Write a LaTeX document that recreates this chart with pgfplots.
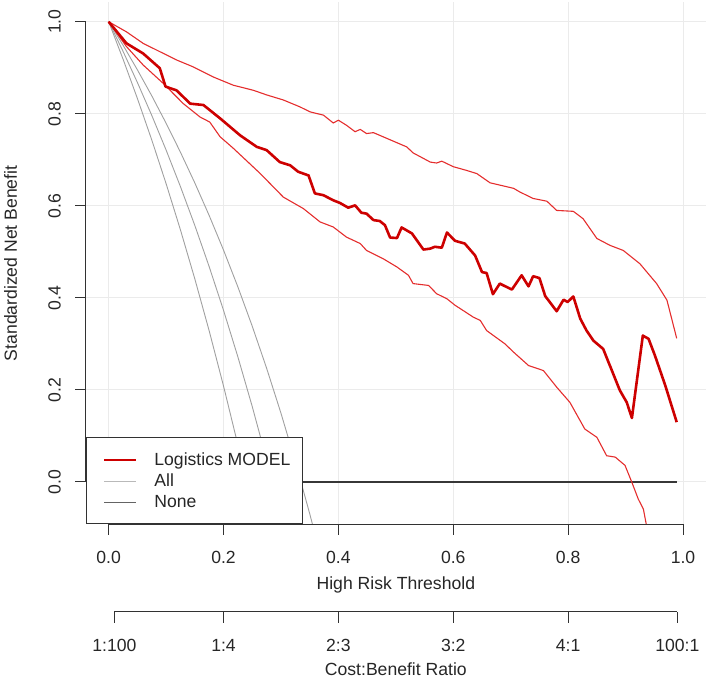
\documentclass[border=0pt]{standalone}
\usepackage{pgfplots}
\pgfplotsset{compat=1.18}
\usepackage{fontspec}
\setmainfont{Liberation Sans}
\definecolor{mred}{RGB}{205,0,0}
\definecolor{cired}{RGB}{228,45,45}
\definecolor{gridc}{RGB}{235,235,235}
\definecolor{allc}{RGB}{160,160,160}
\definecolor{allleg}{RGB}{185,185,185}
\definecolor{nonec}{RGB}{55,55,55}
\definecolor{noneleg}{RGB}{100,100,100}
\definecolor{axc}{RGB}{50,50,50}
\pgfplotsset{mylegimg/.style={legend image code/.code={\draw[##1] (0bp,0bp) -- (32bp,0bp);}}}
\begin{document}
\begin{tikzpicture}[font=\fontsize{17.6bp}{21bp}\selectfont]
\path[use as bounding box] (-85.7bp,-153.7bp) rectangle (622.3bp,524.3bp);
\begin{axis}[
  at={(0,0)}, anchor=south west, scale only axis,
  width=620.3bp, height=521.9bp,
  xmin=-0.04, xmax=1.04, ymin=-0.092, ymax=1.042,
  clip mode=individual,
  axis line style={draw=none},
  tick pos=left, tick align=outside, major tick length=10.5bp,
  tick style={axc, line width=1bp},
  xtick={0,0.2,0.4,0.6,0.8,1.0}, xticklabels={0.0,0.2,0.4,0.6,0.8,1.0},
  ytick={0,0.2,0.4,0.6,0.8,1.0}, yticklabels={0.0,0.2,0.4,0.6,0.8,1.0},
  xticklabel style={inner sep=0pt, anchor=north, text=black!85},
  xticklabel shift=16.7bp,
  yticklabel style={rotate=90, anchor=south, inner sep=0pt, text=black!85},
  yticklabel shift=14.3bp,
  grid=major, major grid style={gridc, line width=1bp},
  xlabel={High Risk Threshold},
  xlabel style={at={([yshift=-65bp]rel axis cs:0.5,0)}, anchor=base, inner sep=0pt, text=black!85},
  ylabel={Standardized Net Benefit},
  ylabel style={at={([xshift=-68.7bp]rel axis cs:0,0.5)}, anchor=base, inner sep=0pt, text=black!85},
  legend style={at={(0,0)}, anchor=south west, draw=axc, line width=1bp, fill=white,
    inner xsep=17bp, inner ysep=14.8bp, row sep=7.2bp, column sep=17bp,
    cells={anchor=west}, nodes={inner sep=0pt, text=black!85}},
  mylegimg,
]
% All (treat all), with interval
\addplot[allc, line width=0.9bp, forget plot] coordinates {
(0,1) (0.025,0.9188) (0.05,0.8333) (0.075,0.7432) (0.1,0.6481) (0.125,0.5476)
(0.15,0.4412) (0.175,0.3283) (0.2,0.2083) (0.225,0.0806) (0.25,-0.0556) (0.26,-0.1126)};
\addplot[allc, line width=0.9bp, forget plot] coordinates {
(0,1) (0.025,0.9357) (0.05,0.8680) (0.075,0.7966) (0.1,0.7212) (0.125,0.6416)
(0.15,0.5573) (0.175,0.4678) (0.2,0.3728) (0.225,0.2716) (0.25,0.1637) (0.275,0.0484)
(0.3,-0.0752) (0.31,-0.1271)};
\addplot[allc, line width=0.9bp, forget plot] coordinates {
(0,1) (0.025,0.9491) (0.05,0.8955) (0.075,0.8391) (0.1,0.7794) (0.125,0.7164)
(0.15,0.6497) (0.175,0.5789) (0.2,0.5037) (0.225,0.4237) (0.25,0.3383) (0.275,0.2471)
(0.3,0.1493) (0.325,0.0443) (0.35,-0.0689) (0.36,-0.1166)};
% None
\addplot[nonec, line width=1.2bp, forget plot] coordinates {(0,0) (0.99,0)};
% Upper CI
\addplot[cired, line width=1.1bp, forget plot] coordinates {
(0,1) (0.031,0.978) (0.060,0.953) (0.089,0.935) (0.118,0.917) (0.147,0.902)
(0.182,0.880) (0.217,0.862) (0.252,0.851) (0.275,0.841) (0.304,0.830) (0.333,0.815)
(0.351,0.804) (0.374,0.797) (0.391,0.780) (0.400,0.786) (0.414,0.775) (0.429,0.761)
(0.438,0.766) (0.449,0.757) (0.461,0.759) (0.519,0.728) (0.530,0.715) (0.560,0.695)
(0.571,0.693) (0.580,0.697) (0.600,0.685) (0.623,0.677) (0.641,0.670) (0.664,0.650)
(0.705,0.638) (0.716,0.630) (0.739,0.616) (0.763,0.610) (0.780,0.590) (0.809,0.588)
(0.826,0.572) (0.850,0.529) (0.873,0.514) (0.896,0.503) (0.925,0.474) (0.954,0.431)
(0.972,0.395) (0.989,0.312)};
% Lower CI
\addplot[cired, line width=1.1bp, forget plot] coordinates {
(0,1) (0.031,0.946) (0.060,0.906) (0.095,0.866) (0.130,0.822) (0.159,0.793)
(0.176,0.782) (0.194,0.750) (0.217,0.725) (0.264,0.670) (0.304,0.619) (0.339,0.594)
(0.368,0.565) (0.391,0.554) (0.414,0.532) (0.438,0.518) (0.449,0.503) (0.478,0.485)
(0.502,0.467) (0.522,0.449) (0.530,0.431) (0.557,0.427) (0.571,0.409) (0.589,0.398)
(0.603,0.384) (0.635,0.358) (0.647,0.351) (0.658,0.329) (0.690,0.300) (0.705,0.282)
(0.731,0.253) (0.757,0.242) (0.780,0.206) (0.803,0.173) (0.829,0.115) (0.850,0.097)
(0.867,0.057) (0.882,0.054) (0.899,0.036) (0.911,-0.001) (0.922,-0.037) (0.931,-0.059)
(0.936,-0.092) (0.940,-0.150)};
% Model
\addplot[mred, line width=2.6bp, line join=round, forget plot] coordinates {
(0,1.0) (0.031,0.953) (0.060,0.931) (0.089,0.899) (0.099,0.859) (0.118,0.851)
(0.142,0.822) (0.165,0.819) (0.194,0.790) (0.229,0.753) (0.258,0.728) (0.275,0.721)
(0.298,0.695) (0.316,0.688) (0.330,0.674) (0.348,0.666) (0.359,0.627) (0.374,0.623)
(0.391,0.612) (0.403,0.606) (0.417,0.596) (0.429,0.601) (0.440,0.585) (0.449,0.583)
(0.461,0.569) (0.472,0.567) (0.481,0.558) (0.490,0.531) (0.502,0.530) (0.510,0.553)
(0.528,0.540) (0.548,0.505) (0.560,0.507) (0.568,0.511) (0.580,0.509) (0.589,0.542)
(0.603,0.524) (0.620,0.518) (0.638,0.492) (0.650,0.456) (0.658,0.454) (0.669,0.408)
(0.681,0.431) (0.702,0.418) (0.719,0.449) (0.731,0.425) (0.739,0.447) (0.750,0.443)
(0.760,0.404) (0.780,0.371) (0.792,0.396) (0.799,0.391) (0.809,0.403) (0.821,0.355)
(0.832,0.329) (0.844,0.307) (0.861,0.289) (0.890,0.199) (0.902,0.173) (0.911,0.139)
(0.930,0.318) (0.940,0.311) (0.951,0.275) (0.969,0.210) (0.989,0.130)};
% axis lines
\draw[axc, line width=1bp] (axis cs:0,-0.092) -- (axis cs:1,-0.092);
\draw[axc, line width=1bp] (axis cs:-0.04,0) -- (axis cs:-0.04,1);
\addlegendimage{mylegimg, mred, line width=2.2bp}
\addlegendentry{Logistics MODEL\hspace*{-5bp}}
\addlegendimage{mylegimg, allleg, line width=1.1bp}
\addlegendentry{All}
\addlegendimage{mylegimg, noneleg, line width=1.2bp}
\addlegendentry{None}
\end{axis}
\begin{axis}[
  at={(0,-87.4bp)}, anchor=south west, scale only axis,
  width=620.3bp, height=10bp,
  xmin=-0.04, xmax=1.04, ymin=0, ymax=1,
  clip=false, axis line style={draw=none},
  ytick=\empty,
  xtick={0.0099,0.2,0.4,0.6,0.8,0.99},
  xticklabels={1:100,1:4,2:3,3:2,4:1,100:1},
  tick pos=left, tick align=outside, major tick length=11bp,
  tick style={axc, line width=1bp},
  xticklabel style={inner sep=0pt, anchor=north, text=black!85},
  xticklabel shift=16.7bp,
  xlabel={Cost:Benefit Ratio},
  xlabel style={at={([yshift=-63.3bp]rel axis cs:0.5,0)}, anchor=base, inner sep=0pt, text=black!85},
]
\draw[axc, line width=1bp] (axis cs:0.0099,0) -- (axis cs:0.99,0);
\end{axis}
\end{tikzpicture}
\end{document}
